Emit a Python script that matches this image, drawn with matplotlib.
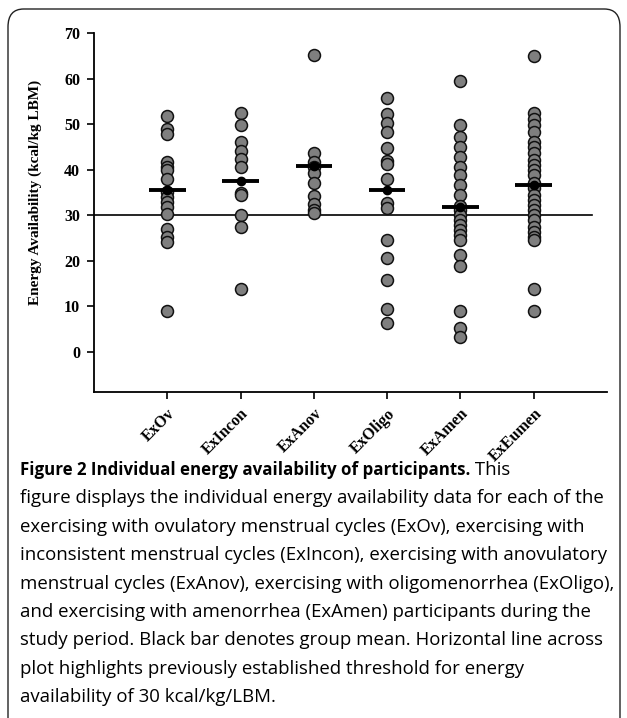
import numpy as np
import matplotlib.pyplot as plt
from matplotlib.patches import FancyBboxPatch

groups = ['ExOv', 'ExIncon', 'ExAnov', 'ExOligo', 'ExAmen', 'ExEumen']

ex_ov = [51.8, 49.0, 47.7, 41.7, 40.6, 39.9, 37.9, 35.1, 34.0, 32.9, 31.8,
         30.2, 26.9, 25.1, 24.1, 9.0]
ex_incon = [52.5, 49.8, 46.1, 44.1, 42.2, 40.6, 34.9, 34.3, 30.0, 27.4, 13.7]
ex_anov = [65.2, 43.6, 41.7, 40.5, 39.2, 37.0, 34.2, 32.4, 31.1, 30.4]
ex_oligo = [55.8, 52.2, 50.3, 48.2, 44.7, 41.9, 41.2, 37.9, 32.6, 31.5,
            24.5, 20.5, 15.7, 9.3, 6.2]
ex_amen = [59.5, 49.8, 47.2, 45.0, 42.8, 40.6, 38.8, 36.6, 34.4, 32.0, 31.1,
           30.0, 28.9, 27.8, 26.7, 25.6, 24.5, 21.2, 18.9, 9.0, 5.1, 3.1]
ex_eumen = [65.0, 52.5, 51.2, 49.8, 48.3, 46.1, 45.0, 43.6, 42.1, 41.0, 39.9,
            38.8, 37.0, 35.9, 34.4, 33.3, 32.2, 31.1, 30.0, 28.9, 27.4, 26.3,
            25.2, 24.5, 13.7, 9.0]
group_means = [35.6, 37.5, 40.8, 35.6, 31.7, 36.7]
threshold = 30

caption_bold = 'Figure 2 Individual energy availability of participants.'
caption_lines = [
    ' This',
    'figure displays the individual energy availability data for each of the',
    'exercising with ovulatory menstrual cycles (ExOv), exercising with',
    'inconsistent menstrual cycles (ExIncon), exercising with anovulatory',
    'menstrual cycles (ExAnov), exercising with oligomenorrhea (ExOligo),',
    'and exercising with amenorrhea (ExAmen) participants during the',
    'study period. Black bar denotes group mean. Horizontal line across',
    'plot highlights previously established threshold for energy',
    'availability of 30 kcal/kg/LBM.',
]

data = [ex_ov, ex_incon, ex_anov, ex_oligo, ex_amen, ex_eumen]

fig = plt.figure(figsize=(6.27, 7.18), dpi=100)

# rounded frame, its bottom edge runs off the picture
frame = FancyBboxPatch((8 / 627, -40 / 718), 612 / 627, (718 - 9 + 40) / 718,
                       boxstyle='round,pad=0,rounding_size=0.025',
                       transform=fig.transFigure, fill=False,
                       edgecolor='#222222', linewidth=1.0)
fig.patches.append(frame)

ax = fig.add_axes([94 / 627, 1 - 392 / 718, 513 / 627, 359 / 718])

serif = {'family': 'Liberation Serif', 'weight': 'bold', 'size': 11.5}

for i, vals in enumerate(data):
    x = np.full(len(vals), i + 1)
    ax.plot(x, vals, 'o', ms=8.6, mfc='#7f7f7f', mec='#111111', mew=1.1,
            zorder=3)
    ax.plot([i + 1 - 0.25, i + 1 + 0.25], [group_means[i]] * 2,
            color='black', lw=2.8, solid_capstyle='butt', zorder=4)
    ax.plot(i + 1, group_means[i], 'o', ms=6, color='black', zorder=5)

ax.plot([0, 6.8], [threshold, threshold], color='black', lw=1.2, zorder=2)

ax.set_xlim(0, 7)
ax.set_ylim(-8.9, 70)
ax.set_yticks(np.arange(0, 71, 10))
ax.set_xticks(np.arange(1, 7))
ax.set_xticklabels(groups, rotation=45, ha='right', va='top',
                   rotation_mode='anchor', fontdict=serif)
ax.set_yticklabels([str(v) for v in range(0, 71, 10)], fontdict=serif)
ax.tick_params(direction='out', length=5, width=1.2, pad=5)
for side in ['top', 'right']:
    ax.spines[side].set_visible(False)
for side in ['left', 'bottom']:
    ax.spines[side].set_linewidth(1.3)
ax.set_ylabel('Energy Availability (kcal/kg LBM)', family='Liberation Serif',
              weight='bold', size=11)
ax.yaxis.set_label_coords(-0.101, 0.557)

# caption
renderer = fig.canvas.get_renderer()
y0 = 1 - 470 / 718
step = 28.4 / 718
t = fig.text(20 / 627, y0, caption_bold, va='center', ha='left',
             family='Open Sans', fontweight='bold', size=12.2)
bb = t.get_window_extent(renderer)
fig.text(bb.x1 / fig.bbox.width, y0, caption_lines[0], va='center',
         ha='left', family='Open Sans', size=13.4)
for k, line in enumerate(caption_lines[1:]):
    fig.text(20 / 627, y0 - (k + 1) * step, line, va='center', ha='left',
             family='Open Sans', size=13.4)

fig.savefig('out.png', dpi=100)
